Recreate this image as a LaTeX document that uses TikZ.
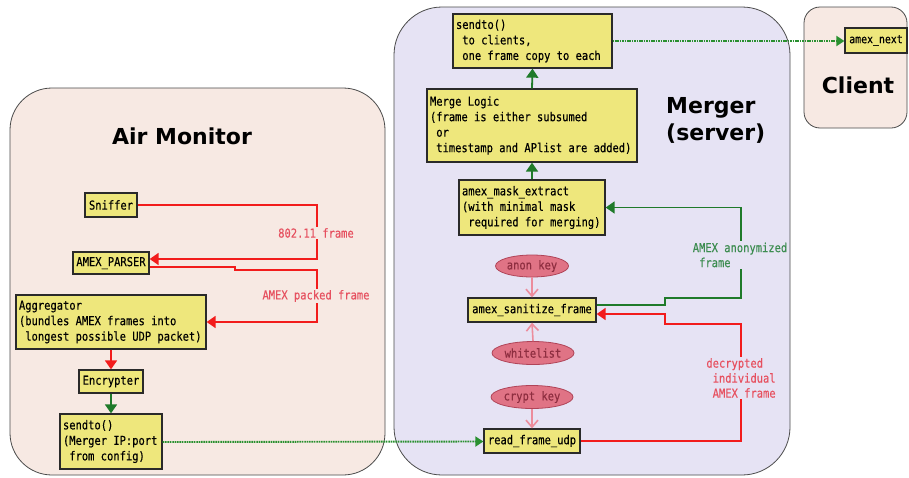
\documentclass[tikz,border=0pt]{standalone}
\usepackage{fontspec}
\setmonofont{DejaVu Sans Mono}[FakeStretch=0.85,FakeBold=0.3]
\newfontfamily\titlefont{DejaVu Sans}
\usetikzlibrary{arrows.meta,shapes.geometric}
\definecolor{panelA}{HTML}{F7E9E3}
\definecolor{panelM}{HTML}{E6E3F4}
\definecolor{panelline}{HTML}{4A4A4A}
\definecolor{boxfill}{HTML}{EEE77C}
\definecolor{boxline}{HTML}{2A2A2A}
\definecolor{redline}{HTML}{F21C1C}
\definecolor{redtext}{HTML}{E6505F}
\definecolor{greenline}{HTML}{1F7A2A}
\definecolor{dotgreen}{HTML}{2A9030}
\definecolor{greentext}{HTML}{3C8C50}
\definecolor{pinkline}{HTML}{EC8C9C}
\definecolor{ellfill}{HTML}{E07385}
\definecolor{ellline}{HTML}{B04458}
\definecolor{elltext}{HTML}{8E2E40}
\newcommand{\myind}{\mbox{\ }}
\begin{document}
\begin{tikzpicture}[x=1pt,y=-1pt,
  panel/.style={draw=panelline, line width=0.8pt},
  title/.style={font=\titlefont\bfseries\fontsize{22}{27}\selectfont, inner sep=0pt},
  box/.style={draw=boxline, fill=boxfill, line width=1.3pt,
    font=\ttfamily\fontsize{12.3}{15.5}\selectfont,
    execute at begin node={\spaceskip=0pt\xspaceskip=0pt\relax},
    inner xsep=3pt, inner ysep=2pt, align=left},
  sbox/.style={box, align=center},
  ell/.style={ellipse, draw=ellline, fill=ellfill, line width=0.8pt, text=elltext,
    font=\ttfamily\fontsize{12.3}{12}\selectfont, inner sep=0pt},
  redarrow/.style={draw=redline, line width=1.8pt, -{Triangle[width=12pt,length=9pt]}},
  greenarrow/.style={draw=greenline, line width=1.8pt, -{Triangle[width=12pt,length=9pt]}},
  dotarrow/.style={draw=dotgreen, line width=1.9pt, dash pattern=on 1.6pt off 0.8pt,
    -{Triangle[width=10pt,length=8pt]}},
  pinkarrow/.style={draw=pinkline, line width=1.6pt, -{Straight Barb[width=12pt,length=7pt]}},
  lbl/.style={font=\ttfamily\fontsize{12.3}{15}\selectfont, inner sep=1.5pt, align=left}
]
\useasboundingbox (0,0) rectangle (909,477);
\fill[white] (0,0) rectangle (909,477);

% panels
\draw[panel, fill=panelA, rounded corners=42pt] (10,88) rectangle (385,475);
\draw[panel, fill=panelM, rounded corners=48pt] (394,7) rectangle (790,475);
\draw[panel, fill=panelA, rounded corners=16pt] (804,7) rectangle (907,128);

% titles
\node[title] (tAir) at (182,136) {Air Monitor};
\node[title, anchor=north west, align=left] (tMerger) at (666,97) {Merger\\(server)};
\node[title] (tClient) at (858,85) {Client};

% air monitor boxes
\node[sbox, text width=46pt, minimum height=24pt] (sniffer) at (111,205) {Sniffer};
\node[sbox, text width=70pt, minimum height=22pt] (parser) at (111,263) {AMEX\_PARSER};
\node[box, text width=184pt, minimum height=54pt] (aggr) at (111,322)
  {Aggregator\\(bundles AMEX frames into\\\myind longest possible UDP packet)};
\node[sbox, text width=58pt, minimum height=23pt] (encr) at (111,381.5) {Encrypter};
\node[box, text width=96pt, minimum height=55pt] (sendL) at (111,441.5)
  {sendto()\\(Merger IP:port\\\myind from config)};

% merger boxes
\node[sbox, text width=90pt, minimum height=24pt] (rfu) at (532,441) {read\_frame\_udp};
\node[sbox, text width=122pt, minimum height=24pt] (sanit) at (532,310) {amex\_sanitize\_frame};
\node[box, text width=140pt, minimum height=55pt] (mask) at (532,207.5)
  {amex\_mask\_extract\\(with minimal mask\\\myind required for merging)};
\node[box, text width=204pt, minimum height=73pt] (merge) at (532,125.5)
  {Merge Logic\\(frame is either subsumed\\\myind or\\\myind timestamp and APlist are added)};
\node[box, text width=153pt, minimum height=54pt] (sendM) at (532.5,41)
  {sendto()\\\myind to clients,\\\myind one frame copy to each};

% client box
\node[sbox, text width=56pt, minimum height=25pt, font=\ttfamily\fontsize{11.6}{12}\selectfont] (next) at (876,40.5) {amex\_next};

% ellipses
\node[ell, minimum width=73pt, minimum height=22pt] (anon) at (532,266) {anon key};
\node[ell, minimum width=82pt, minimum height=23pt] (white) at (533,353) {whitelist};
\node[ell, minimum width=82pt, minimum height=23pt] (crypt) at (532,397) {crypt key};

% air monitor connectors
\draw[redarrow] (sniffer.east) -| (317,259) -- ([yshift=4pt]parser.east);
\draw[redarrow] ([yshift=-4pt]parser.east) -- (235,267) -- (235,270) -- (317,270) |- (aggr.east);
\draw[redarrow] (aggr.south) -- (encr.north);
\draw[greenarrow] (encr.south) -- (sendL.north);
\draw[dotarrow] ([yshift=-0.5pt]sendL.east) -- (sendL.east -| rfu.west);

% merger connectors
\draw[redarrow] (rfu.east) -| (741,324) -- (665,324) |- ([yshift=-4pt]sanit.east);
\draw[greenarrow] ([yshift=5pt]sanit.east) -| (665,298) -- (741,298) |- (mask.east);
\draw[greenarrow] (mask.north) -- (merge.south);
\draw[greenarrow] (merge.north) -- (sendM.south);
\draw[dotarrow] (sendM.east) -- (sendM.east -| next.west);
\draw[pinkarrow] (anon.south) -- (sanit.north);
\draw[pinkarrow] (white.north) -- (sanit.south);
\draw[pinkarrow] (crypt.south) -- (rfu.north);

% labels
\node[lbl, text=redtext, fill=panelA] (l80211) at (316,233) {802.11 frame};
\node[lbl, text=redtext, fill=panelA] (lpacked) at (316,296) {AMEX packed frame};
\node[lbl, text=redtext, fill=panelM] (ldecr) at (741,378)
  {decrypted\\\myind individual\\\myind AMEX frame};
\node[lbl, text=greentext, fill=panelM] (lanon) at (740,255)
  {AMEX anonymized\\\myind frame};
\end{tikzpicture}
\end{document}
